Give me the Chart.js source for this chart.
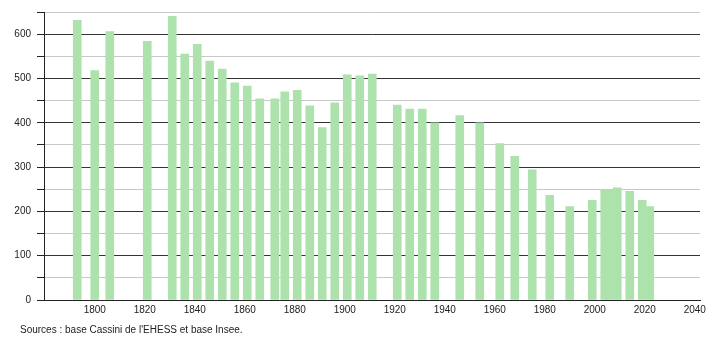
<!DOCTYPE html>
<html>
<head>
<meta charset="utf-8">
<script src="https://cdn.jsdelivr.net/npm/chart.js@4"></script>
<style>
  body { margin: 0; background: #fff; }
  #wrap { position: relative; width: 710px; height: 340px; }
  #source {
    position: absolute; left: 20px; top: 324px;
    font: 10px "Liberation Sans", Arial, sans-serif; color: #222;
  }
</style>
</head>
<body>
<div id="wrap">
  <canvas id="myChart" width="710" height="340"></canvas>
  <div id="source">Sources : base Cassini de l'EHESS et base Insee.</div>
</div>
<script>
const years = [1793, 1800, 1806, 1821, 1831, 1836, 1841, 1846, 1851, 1856,
  1861, 1866, 1872, 1876, 1881, 1886, 1891, 1896, 1901, 1906,
  1911, 1921, 1926, 1931, 1936, 1946, 1954, 1962, 1968, 1975,
  1982, 1990, 1999, 2004, 2006, 2009, 2014, 2019, 2022];
const population = [631, 518, 606, 584, 640, 555, 577, 539, 521, 490,
  483, 454, 454, 470, 473, 438, 389, 445, 508, 506,
  510, 440, 431, 431, 400, 416, 400, 353, 324, 294,
  236, 211, 225, 249, 249, 253, 245, 225, 211];
const xTicks = [1800, 1820, 1840, 1860, 1880, 1900, 1920, 1940, 1960, 1980, 2000, 2020, 2040];

const ctx = document.getElementById('myChart').getContext('2d');
const myChart = new Chart(ctx, {
    type: 'bar',
    data: {
        datasets: [{
            data: years.map((yr, i) => ({ x: yr, y: population[i] })),
            backgroundColor: '#ade2ad',
            borderWidth: 0,
            barThickness: 8
        }]
    },
    options: {
        responsive: false,
        animation: false,
        layout: { padding: { top: 10, right: 10, left: 0, bottom: 0 } },
        plugins: {
            legend: { display: false },
            tooltip: { enabled: false }
        },
        scales: {
            x: {
                type: 'linear',
                offset: false,
                min: 1779.7,
                max: 2042.1,
                // no grid and no tick marks on the year axis
                grid: { display: false, drawTicks: false, tickLength: 0 },
                border: { color: '#222' },
                afterBuildTicks: (axis) => {
                    axis.ticks = xTicks.map(v => ({ value: v }));
                },
                afterFit: (scale) => { scale.height = 40; },
                ticks: {
                    padding: 4,
                    color: '#222',
                    font: { family: 'Liberation Sans', size: 10 },
                    callback: (v) => v
                }
            },
            y: {
                min: 0,
                max: 650,
                afterFit: (scale) => { scale.width = 44; },
                grid: {
                    color: (c) => c.tick && c.tick.value % 100 === 0 ? '#333' : '#c8c8c8',
                    tickColor: '#222',
                    tickLength: 7
                },
                border: { color: '#222' },
                ticks: {
                    stepSize: 25,
                    padding: 6,
                    color: '#222',
                    font: { family: 'Liberation Sans', size: 10 },
                    callback: (v) => v % 100 === 0 ? v : ''
                }
            }
        }
    }
});
</script>
</body>
</html>
